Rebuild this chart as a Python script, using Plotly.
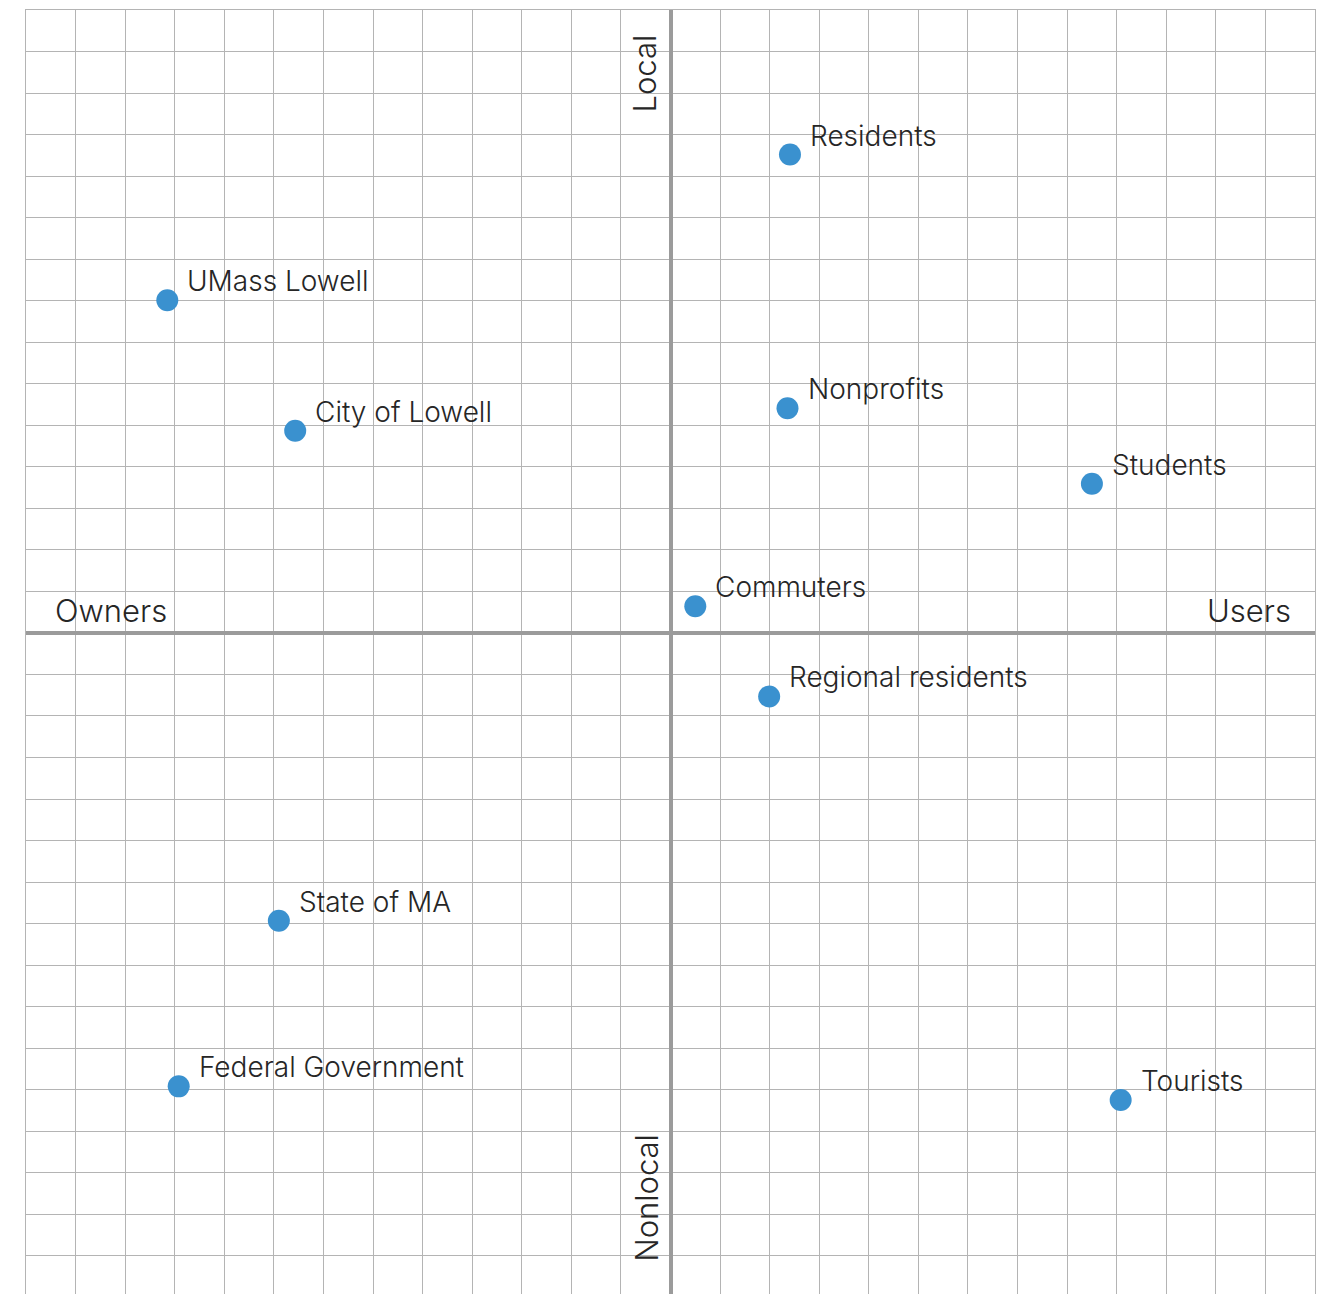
import plotly.graph_objects as go

# Data (grid units: x = owners(-) / users(+), y = nonlocal(-) / local(+))
names = ["Residents", "UMass Lowell", "City of Lowell", "Nonprofits", "Students",
         "Commuters", "Regional residents", "State of MA", "Federal Government", "Tourists"]
x_vals = [2.41, -10.15, -7.57, 2.36, 8.50, 0.50, 1.99, -7.90, -9.92, 9.08]
y_vals = [11.52, 8.01, 4.87, 5.41, 3.59, 0.64, -1.53, -6.93, -10.92, -11.25]

x_range = [-13, 13]
y_range = [-15.92, 15]

GRID = "#b4b4b4"
AXIS = "#9b9b9b"
DOT = "#3a91cf"
TXT = "#262626"
FONT = "Inter"

fig = go.Figure()
fig.add_trace(go.Scatter(
    x=x_vals, y=y_vals, mode="markers",
    marker=dict(size=22, color=DOT, line=dict(width=0)),
    hoverinfo="skip", showlegend=False,
))

annotations = []
for n, xv, yv in zip(names, x_vals, y_vals):
    annotations.append(dict(
        x=xv, y=yv, xref="x", yref="y", text=n, showarrow=False,
        xanchor="left", yanchor="middle", xshift=18, yshift=19,
        font=dict(family=FONT, size=28, color=TXT, weight=300),
    ))

axis_font = dict(family=FONT, size=31, color=TXT, weight=300)
annotations += [
    dict(x=-12.45, y=0.55, xref="x", yref="y", text="Owners", showarrow=False,
         xanchor="left", yanchor="middle", font=axis_font),
    dict(x=12.55, y=0.55, xref="x", yref="y", text="Users", showarrow=False,
         xanchor="right", yanchor="middle", font=axis_font),
    dict(x=-0.52, y=14.45, xref="x", yref="y", text="Local", showarrow=False,
         textangle=-90, xanchor="center", yanchor="top", font=axis_font),
    dict(x=-0.50, y=-15.2, xref="x", yref="y", text="Nonlocal", showarrow=False,
         textangle=-90, xanchor="center", yanchor="bottom", font=axis_font),
]

fig.update_layout(
    width=1316, height=1286,
    margin=dict(l=18, r=9, t=2, b=0),
    paper_bgcolor="white", plot_bgcolor="white",
    annotations=annotations,
    font=dict(family=FONT),
)
fig.update_xaxes(range=x_range, dtick=1, tick0=0, showgrid=True, gridcolor=GRID, gridwidth=1,
                 zeroline=True, zerolinecolor=AXIS, zerolinewidth=4,
                 showticklabels=False, ticks="", showline=True, linecolor=GRID,
                 linewidth=1, mirror=True, fixedrange=True)
fig.update_yaxes(range=y_range, dtick=1, tick0=0, showgrid=True, gridcolor=GRID, gridwidth=1,
                 zeroline=True, zerolinecolor=AXIS, zerolinewidth=4,
                 showticklabels=False, ticks="", showline=True, linecolor=GRID,
                 linewidth=1, mirror=True, fixedrange=True)

fig.write_html("out.html", config={"displayModeBar": False})
